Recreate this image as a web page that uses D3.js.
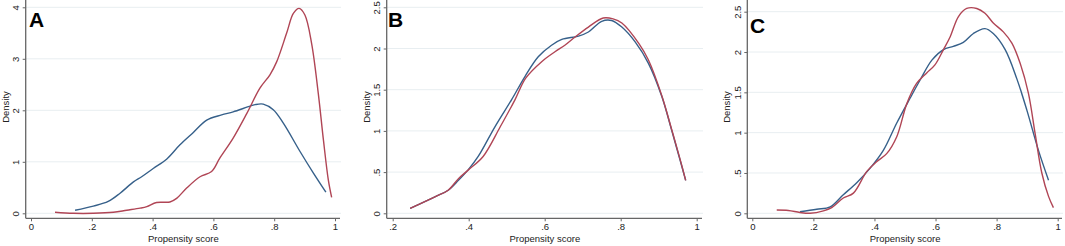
<!DOCTYPE html>
<html>
<head>
<meta charset="utf-8">
<script src="https://cdn.jsdelivr.net/npm/d3@7"></script>
<style>
  body { margin: 0; background: #fff; }
  svg { display: block; font-family: "Liberation Sans", Arial, sans-serif; }
  .tick text { fill: #222; font-size: 9.5px; }
  .tick line { stroke: #666; }
  .axis path.domain { display: none; }
  .grid-line { stroke: #e8eef1; stroke-width: 1; }
  .axis-line { stroke: #666; stroke-width: 1.3; }
</style>
</head>
<body>
<svg id="chart"></svg>
<script>
// ---- data: [propensity score, density] ----
const panelLabels = ["A", "B", "C"];

const aBlue = [[0.145,0.06],[0.205,0.14],[0.254,0.23],[0.293,0.39],[0.337,0.61],[0.364,0.71],[0.402,0.87],
  [0.446,1.05],[0.49,1.33],[0.534,1.57],[0.578,1.81],[0.627,1.91],[0.665,1.97],[0.715,2.07],[0.737,2.11],
  [0.764,2.12],[0.797,2.01],[0.83,1.75],[0.885,1.20],[0.929,0.78],[0.970,0.41]];
const aRed = [[0.079,0.02],[0.139,0.0],[0.205,0.0],[0.271,0.02],[0.315,0.06],[0.359,0.1],[0.381,0.13],
  [0.413,0.21],[0.457,0.22],[0.479,0.29],[0.512,0.49],[0.556,0.71],[0.594,0.81],[0.621,1.07],[0.665,1.46],
  [0.71,1.94],[0.753,2.43],[0.786,2.69],[0.808,2.94],[0.841,3.50],[0.863,3.88],[0.882,3.98],[0.901,3.85],
  [0.923,3.30],[0.945,2.33],[0.962,1.42],[0.978,0.65],[0.989,0.31]];

const bBlue = [[0.246,0.06],[0.311,0.20],[0.346,0.28],[0.373,0.40],[0.399,0.53],[0.425,0.69],[0.469,1.05],
  [0.513,1.38],[0.548,1.66],[0.583,1.90],[0.618,2.04],[0.645,2.11],[0.689,2.15],[0.715,2.20],[0.75,2.33],
  [0.776,2.34],[0.803,2.26],[0.838,2.08],[0.873,1.82],[0.908,1.42],[0.934,1.01],[0.956,0.65],[0.971,0.40]];
const bRed = [[0.246,0.06],[0.311,0.20],[0.346,0.28],[0.373,0.42],[0.40,0.53],[0.438,0.69],[0.483,1.05],
  [0.522,1.38],[0.55,1.64],[0.592,1.84],[0.627,1.96],[0.653,2.04],[0.68,2.14],[0.715,2.26],[0.754,2.37],
  [0.78,2.36],[0.803,2.31],[0.848,2.06],[0.873,1.86],[0.908,1.43],[0.934,1.02],[0.956,0.66],[0.971,0.40]];

const cBlue = [[0.156,0.02],[0.211,0.05],[0.255,0.08],[0.298,0.23],[0.342,0.38],[0.386,0.56],[0.429,0.78],
  [0.473,1.12],[0.517,1.43],[0.549,1.65],[0.588,1.90],[0.626,2.03],[0.658,2.07],[0.691,2.12],[0.724,2.23],
  [0.762,2.29],[0.789,2.23],[0.828,2.03],[0.866,1.67],[0.899,1.28],[0.937,0.78],[0.970,0.41]];
const cRed = [[0.080,0.04],[0.118,0.035],[0.156,0.01],[0.189,0.0],[0.233,0.03],[0.26,0.07],[0.298,0.19],
  [0.331,0.25],[0.375,0.52],[0.407,0.64],[0.44,0.74],[0.473,0.95],[0.506,1.36],[0.538,1.61],[0.571,1.74],
  [0.598,1.84],[0.626,2.03],[0.648,2.19],[0.675,2.44],[0.702,2.54],[0.735,2.54],[0.762,2.48],[0.789,2.36],
  [0.822,2.25],[0.85,2.11],[0.877,1.86],[0.904,1.49],[0.926,0.99],[0.948,0.50],[0.970,0.21],[0.986,0.07]];

const xTicksA = [0, 0.2, 0.4, 0.6, 0.8, 1];
const xTicksB = [0.2, 0.4, 0.6, 0.8, 1];
const yTicksA = [0, 1, 2, 3, 4];
const yTicksBC = [0, 0.5, 1, 1.5, 2, 2.5];

const xTitle = "Propensity score";
const yTitle = "Density";

const blue = "#36608a";
const red = "#b04555";

// Stata style tick text: ".2" instead of "0.2"
const fmt = d => d === 0 ? "0" : String(d).replace(/^0\./, ".");

const svg = d3.select("#chart").attr("width", 1065).attr("height", 246);

// layout of each panel (pixel ranges only)
const panels = [
  { label: panelLabels[0], blue: aBlue, red: aRed, xDom: [0, 1], xRange: [31, 335], yDom: [0, 4], yRange: [213.3, 7.3],
    left: 25.7, right: 341, xTicks: xTicksA, yTicks: yTicksA, labelPos: [29, 27], yTitleX: 5 },
  { label: panelLabels[1], blue: bBlue, red: bRed, xDom: [0.2, 1], xRange: [392.7, 696.7], yDom: [0, 2.5], yRange: [213.3, 7.3],
    left: 386.7, right: 703, xTicks: xTicksB, yTicks: yTicksBC, labelPos: [388, 27], yTitleX: 366 },
  { label: panelLabels[2], blue: cBlue, red: cRed, xDom: [0, 1], xRange: [752.3, 1057.7], yDom: [0, 2.5], yRange: [213.3, 11.7],
    left: 747.3, right: 1063, xTicks: xTicksA, yTicks: yTicksBC, labelPos: [750, 33], yTitleX: 726.5 }
];

const bottom = 218.3;

panels.forEach(p => {
  const g = svg.append("g");
  const x = d3.scaleLinear().domain(p.xDom).range(p.xRange);
  const y = d3.scaleLinear().domain(p.yDom).range(p.yRange);

  // gridlines
  g.selectAll(".grid-line")
    .data(p.yTicks)
    .join("line")
      .attr("class", "grid-line")
      .attr("x1", p.left).attr("x2", p.right)
      .attr("y1", d => y(d)).attr("y2", d => y(d));

  // y axis
  const yAxisG = g.append("g")
    .attr("class", "axis")
    .attr("transform", `translate(${p.left},0)`)
    .call(d3.axisLeft(y).tickValues(p.yTicks).tickFormat(fmt).tickSize(3).tickPadding(3));
  yAxisG.selectAll(".tick text")
    .attr("text-anchor", "middle")
    .attr("x", 0).attr("dy", 0)
    .attr("transform", "translate(-10,0) rotate(-90)")
    .attr("dominant-baseline", "central");

  // x axis
  const xAxisG = g.append("g")
    .attr("class", "axis")
    .attr("transform", `translate(0,${bottom})`)
    .call(d3.axisBottom(x).tickValues(p.xTicks).tickFormat(fmt).tickSize(3).tickPadding(2));
  xAxisG.selectAll(".tick text").attr("dy", "0.75em");

  // axis lines
  g.append("line").attr("class", "axis-line")
    .attr("x1", p.left).attr("x2", p.left).attr("y1", 0).attr("y2", bottom);
  g.append("line").attr("class", "axis-line")
    .attr("x1", p.left).attr("x2", p.right - 1).attr("y1", bottom).attr("y2", bottom);

  // titles
  g.append("text")
    .attr("x", (p.left + p.right) / 2)
    .attr("y", 242)
    .attr("text-anchor", "middle")
    .attr("font-size", 9.5)
    .attr("fill", "#222")
    .text(xTitle);
  g.append("text")
    .attr("transform", `translate(${p.yTitleX},107) rotate(-90)`)
    .attr("text-anchor", "middle")
    .attr("dominant-baseline", "central")
    .attr("font-size", 9.5)
    .attr("fill", "#222")
    .text(yTitle);

  // panel letter
  g.append("text")
    .attr("x", p.labelPos[0]).attr("y", p.labelPos[1])
    .attr("font-size", 21)
    .attr("font-weight", "bold")
    .attr("fill", "#000")
    .text(p.label);

  // density curves
  const line = d3.line()
    .x(d => x(d[0]))
    .y(d => y(d[1]))
    .curve(d3.curveCatmullRom.alpha(0.5));

  g.append("path").datum(p.blue)
    .attr("fill", "none").attr("stroke", blue).attr("stroke-width", 1.4)
    .attr("d", line);
  g.append("path").datum(p.red)
    .attr("fill", "none").attr("stroke", red).attr("stroke-width", 1.4)
    .attr("d", line);
});
</script>
</body>
</html>
